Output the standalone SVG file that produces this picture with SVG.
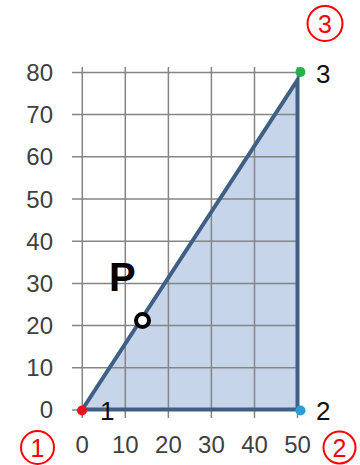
<svg xmlns="http://www.w3.org/2000/svg" width="360" height="465" viewBox="0 0 360 465">
<style>
.grid{stroke:#858585;stroke-width:1.5;fill:none}
.ax{font-family:"Liberation Sans",Arial,sans-serif;font-size:24px;fill:#404040}
.ay{text-anchor:end}
.axx{text-anchor:middle}
.lbl{font-family:"Liberation Sans",Arial,sans-serif;font-size:26px;fill:#111}
.ring{fill:none;stroke:#ff0000;stroke-width:2}
.rnum{font-family:"Liberation Sans",Arial,sans-serif;font-size:25px;fill:#ff0000;text-anchor:middle}
</style>
<rect width="360" height="465" fill="#ffffff"/>
<g id="triangle-fill">
<polygon points="82.3,409.5 297.5,80 297.5,409.5" fill="#c6d5ea"/>
</g>
<g id="grid">
<path class="grid" d="M72,410H297.5M72,367.8H297.5M72,325.6H297.5M72,283.4H297.5M72,241.2H297.5M72,199H297.5M72,156.8H297.5M72,114.6H297.5M72,72.4H297.5"/>
<path class="grid" d="M82.3,67V418M125.3,67V418M168.4,67V418M211.4,67V418M254.5,67V418M297.5,67V418"/>
</g>
<g id="axis-labels">
<text class="ax ay" x="53" y="81">80</text>
<text class="ax ay" x="53" y="123">70</text>
<text class="ax ay" x="53" y="165">60</text>
<text class="ax ay" x="53" y="208">50</text>
<text class="ax ay" x="53" y="250">40</text>
<text class="ax ay" x="53" y="292">30</text>
<text class="ax ay" x="53" y="334">20</text>
<text class="ax ay" x="53" y="376">10</text>
<text class="ax ay" x="53" y="418">0</text>
<text class="ax axx" x="82.3" y="453">0</text>
<text class="ax axx" x="125.3" y="453">10</text>
<text class="ax axx" x="168.4" y="453">20</text>
<text class="ax axx" x="211.4" y="453">30</text>
<text class="ax axx" x="254.5" y="453">40</text>
<text class="ax axx" x="297.5" y="453">50</text>
</g>
<g id="connectors">
<polygon points="82.3,409.5 297.5,80 297.5,409.5" fill="none" stroke="#3f5f85" stroke-width="4" stroke-linejoin="miter"/>
</g>
<g id="node-1">
<circle cx="82" cy="410.5" r="5" fill="#e8141c"/>
<text class="lbl" x="100" y="420">1</text>
<circle class="ring" cx="37.5" cy="447.5" r="16.5"/>
<text class="rnum" x="37.5" y="456.5">1</text>
</g>
<g id="node-2">
<circle cx="300.5" cy="410.5" r="5" fill="#2e9ad8"/>
<text class="lbl" x="316" y="420">2</text>
<circle class="ring" cx="339.5" cy="447.5" r="16"/>
<text class="rnum" x="339.5" y="456.5">2</text>
</g>
<g id="node-3">
<circle cx="300.5" cy="72" r="5" fill="#25b24a"/>
<text class="lbl" x="316" y="83">3</text>
<circle class="ring" cx="325" cy="23.5" r="17.5"/>
<text class="rnum" x="325" y="32.5">3</text>
</g>
<g id="node-P">
<text x="109" y="290.5" font-family="'Liberation Sans',Arial,sans-serif" font-weight="bold" font-size="40" fill="#000">P</text>
<circle cx="142.5" cy="320.5" r="6.5" fill="#ffffff" stroke="#000" stroke-width="4"/>
</g>
</svg>
